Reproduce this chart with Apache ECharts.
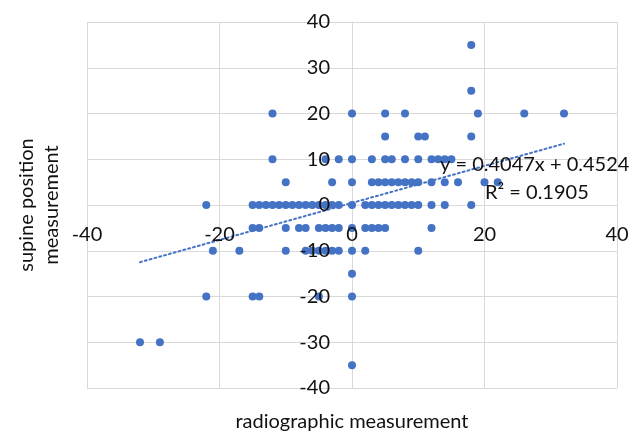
<!DOCTYPE html>
<html>
<head>
<meta charset="utf-8">
<script src="https://cdn.jsdelivr.net/npm/echarts@6/dist/echarts.min.js"></script>
<style>
  html, body { margin: 0; padding: 0; background: #fff; }
  #chart { width: 644px; height: 434px; }
</style>
</head>
<body>
<div id="chart"></div>
<script>
// supine position value of each row, and the radiographic values found on that row
const rowY = [35, 25, 20, 15, 10, 5, 0, -5, -10, -15, -20, -30, -35];
const rowX = [
  [18],
  [18],
  [-12, 0, 5, 8, 19, 26, 32],
  [5, 10, 11, 18],
  [-12, -4, -2, 0, 3, 5, 6, 8, 10, 12, 13, 14, 15],
  [-10, -3, 0, 3, 4, 5, 6, 7, 8, 9, 10, 12, 14, 16, 20, 22],
  [-22, -15, -14, -13, -12, -11, -10, -9, -8, -7, -6, -5, -4, -3, -2, 0, 2, 3, 4, 5, 6, 7, 8, 9, 10, 12, 14, 18],
  [-15, -14, -10, -8, -7, -5, -4, -3, -2, 0, 2, 3, 4, 5, 12],
  [-21, -17, -10, -7, -6, -5, -4, -3, -2, 0, 2, 10],
  [0],
  [-22, -15, -14, -5, 0],
  [-32, -29],
  [0]
];

// linear trendline as reported on the chart
const slope = 0.4047;
const intercept = 0.4524;
const rSquared = 0.1905;

const axisTicks = { min: -40, max: 40 };
const font = 'Lato, "Noto Sans", sans-serif';

const points = [];
rowY.forEach((y, i) => rowX[i].forEach(x => points.push([x, y])));
const xs = points.map(p => p[0]);
const xMin = Math.min(...xs);
const xMax = Math.max(...xs);
const trend = [xMin, xMax].map(x => [x, slope * x + intercept]);

// grid box; axes are shifted onto the zero lines
const gridBox = { left: 87, top: 22, width: 530, height: 366 };
const xShift = -gridBox.height / 2;
const yShift = -gridBox.width / 2;

const labelStyle = { color: '#111', fontSize: 20, fontFamily: font };
const gridLine = { lineStyle: { color: '#d9d9d9', width: 1 } };

// axis 0 draws the grid under the dots, axis 1 only the labels above them
const makeAxes = (interval, shift, pos, margin) => [
  {
    type: 'value', min: axisTicks.min, max: axisTicks.max, interval,
    position: pos, offset: shift,
    axisLine: { onZero: false, ...gridLine },
    axisTick: { show: false },
    axisLabel: { show: false },
    splitLine: gridLine
  },
  {
    type: 'value', min: axisTicks.min, max: axisTicks.max, interval,
    position: pos, offset: shift, z: 10,
    axisLine: { show: false, onZero: false },
    axisTick: { show: false },
    axisLabel: { ...labelStyle, margin },
    splitLine: { show: false }
  }
];

const chart = echarts.init(document.getElementById('chart'));
chart.setOption({
  animation: false,
  grid: gridBox,
  xAxis: makeAxes(20, xShift, 'bottom', 20),
  yAxis: makeAxes(10, yShift, 'left', 22),
  series: [
    {
      type: 'scatter',
      data: points,
      symbolSize: 8,
      itemStyle: { color: '#4472C4', opacity: 1 }
    },
    {
      type: 'line',
      data: trend,
      showSymbol: false,
      z: 3,
      lineStyle: { color: '#4472C4', width: 2, type: [2, 3], cap: 'round' }
    }
  ],
  graphic: [
    {
      type: 'text', left: 440, top: 155, z: 20,
      style: { text: 'y = ' + slope + 'x + ' + intercept, font: '20px ' + font, fill: '#111' }
    },
    {
      type: 'text', left: 485, top: 183, z: 20,
      style: { text: 'R² = ' + rSquared, font: '20px ' + font, fill: '#111' }
    },
    {
      type: 'text', x: 352, y: 422,
      style: { text: 'radiographic measurement', font: '20px ' + font, fill: '#111', align: 'center', verticalAlign: 'middle' }
    },
    {
      type: 'text', x: 39, y: 205, rotation: Math.PI / 2,
      style: { text: 'supine position\nmeasurement', font: '20px ' + font, fill: '#111', align: 'center', verticalAlign: 'middle', lineHeight: 25 }
    }
  ]
});
</script>
</body>
</html>
